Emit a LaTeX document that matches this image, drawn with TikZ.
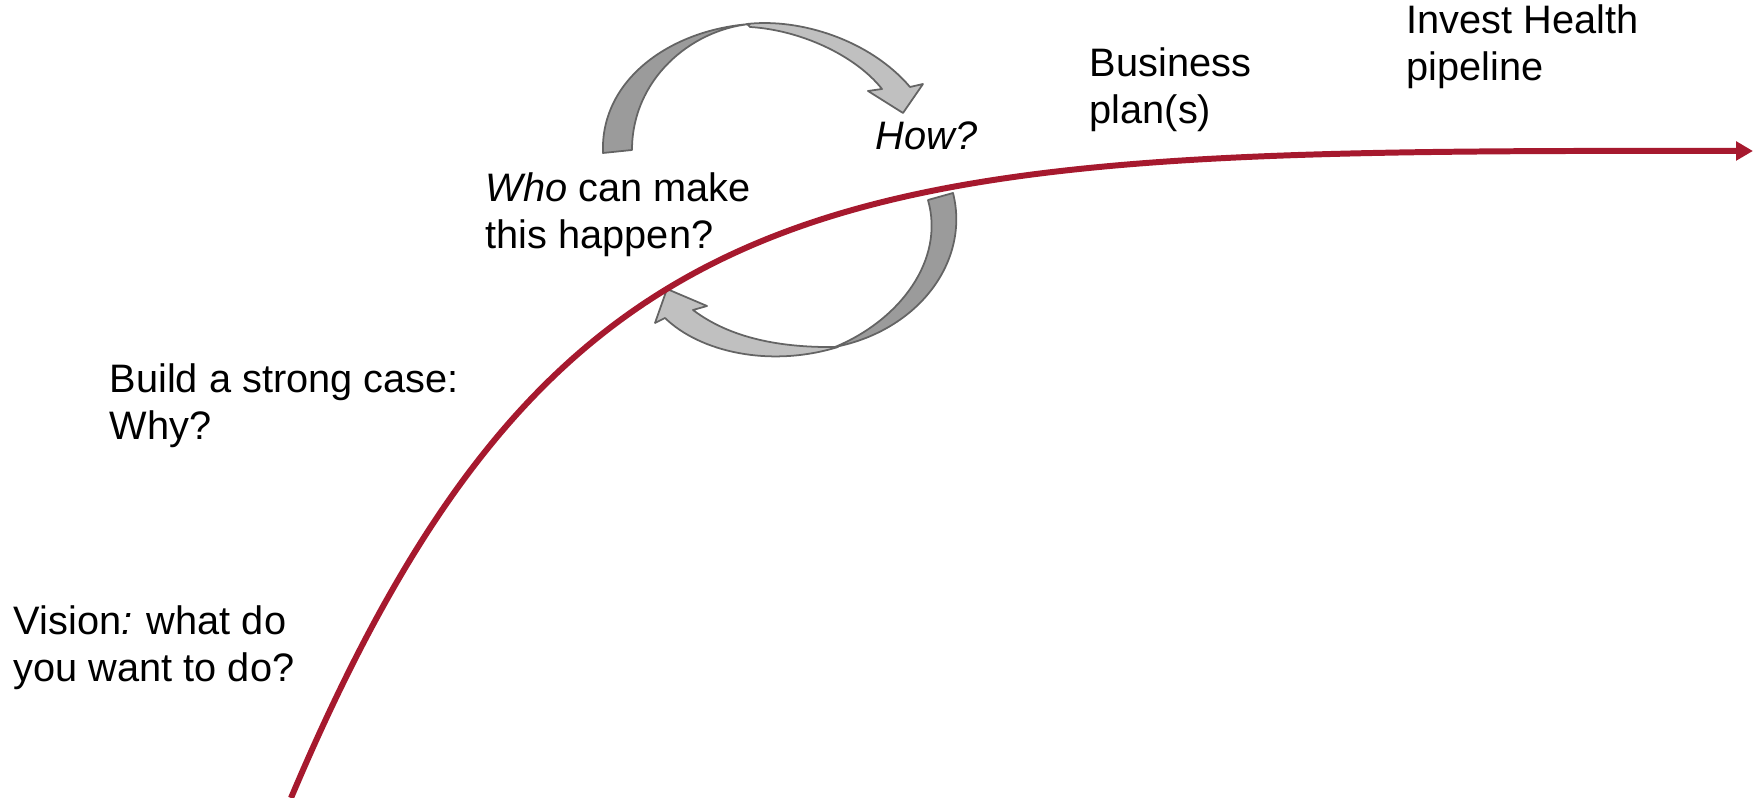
\documentclass[tikz,border=0pt]{standalone}
\usepackage{fontspec}
\setmainfont{Liberation Sans}
\usetikzlibrary{arrows.meta}
\definecolor{curvered}{RGB}{166,25,46}
\definecolor{bandDark}{RGB}{155,155,155}
\definecolor{bandLight}{RGB}{192,192,192}
\definecolor{bandEdge}{RGB}{100,100,100}
\tikzset{
  lbl/.style={anchor=base west, inner sep=0pt, align=left, font=\fontsize{11.3pt}{13.4pt}\selectfont},
  darkband/.style={fill=bandDark, draw=bandEdge, line width=0.5pt, line join=round},
  lightband/.style={fill=bandLight, draw=bandEdge, line width=0.5pt, line join=round},
  growth/.style={draw=curvered, line width=1.7pt, -{Triangle[length=4.8pt,width=5.2pt]}}
}
\begin{document}
\begin{tikzpicture}[x=0.01cm,y=-0.01cm]
\useasboundingbox (0,0) rectangle (1757,798);

% upper curved arrow (Who -> How)
\draw[lightband] (747,24) .. controls (800,18) and (870,40) .. (910,87)
  -- (923,84) -- (903,113) -- (868,91) -- (882,89)
  .. controls (855,55) and (800,30) .. (750,27) -- cycle;
\draw[darkband] (603,153) .. controls (600,80) and (670,30) .. (750,24)
  .. controls (690,30) and (632,80) .. (632,150) -- cycle;

% lower curved arrow (How -> Who)
\draw[lightband] (665,318) .. controls (700,352) and (770,368) .. (838,347)
  .. controls (780,348) and (730,338) .. (693,310)
  -- (707,306) -- (667,289) -- (655,323) -- cycle;
\draw[darkband] (953,193) .. controls (970,260) and (920,330) .. (835,347)
  .. controls (900,320) and (945,260) .. (928,200) -- cycle;

% growth curve
\coordinate (cstart) at (291,798);
\coordinate (cend) at (1753,151);
\draw[growth] (cstart) .. controls (564,152) and (854,150) .. (cend);

% labels (anchored at the baseline of the last line)
\node[lbl] (vision) at (13,682) {Vision\textit{:} what do\\you want to do?};
\node[lbl] (build) at (109,440) {Build a strong case:\\Why?};
\node[lbl] (who) at (485,249) {\textit{Who} can make\\this happen?};
\node[lbl] (how) at (875,150) {\textit{How?}};
\node[lbl] (business) at (1089,124) {Business\\plan(s)};
\node[lbl] (invest) at (1406,81) {Invest Health\\pipeline};
\end{tikzpicture}
\end{document}
